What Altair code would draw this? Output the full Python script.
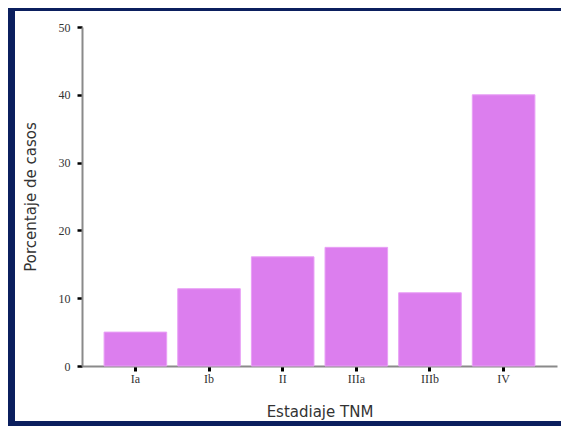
import altair as alt
import pandas as pd

stages = ["Ia", "Ib", "II", "IIIa", "IIIb", "IV"]
percent = [5.0, 11.4, 16.1, 17.5, 10.8, 40.0]

df = pd.DataFrame({"stage": stages, "pct": percent})

W, H = 475, 339
frame_color = "#0B1F5E"

bars = alt.Chart(df).mark_bar(color="#DC7EEE", stroke="#E9A0F6", strokeWidth=1).encode(
    x=alt.X(
        "stage:N",
        sort=stages,
        scale=alt.Scale(paddingInner=0.15, paddingOuter=0.30),
        axis=alt.Axis(
            title="Estadiaje TNM",
            labelAngle=0,
            labelFont="Liberation Serif",
            labelFontSize=12,
            labelColor="#333333",
            labelPadding=2,
            domainColor="#8a8a8a",
            domainWidth=2,
            tickColor="#000000",
            tickWidth=3,
            tickSize=5,
            titleFont="DejaVu Sans",
            titleFontSize=15,
            titleFontWeight="normal",
            titleColor="#333333",
            titlePadding=20,
        ),
    ),
    y=alt.Y(
        "pct:Q",
        scale=alt.Scale(domain=[0, 50]),
        axis=alt.Axis(
            title="Porcentaje de casos",
            values=[0, 10, 20, 30, 40, 50],
            grid=False,
            labelFont="Liberation Serif",
            labelFontSize=12,
            labelColor="#333333",
            labelPadding=7,
            domainColor="#8a8a8a",
            domainWidth=2,
            tickColor="#000000",
            tickWidth=2.5,
            tickSize=5,
            titleFont="DejaVu Sans",
            titleFontSize=15,
            titleFontWeight="normal",
            titleColor="#333333",
            titlePadding=20,
        ),
    ),
)

frame_data = alt.Data(values=[{"k": 1}])
left_bar = alt.Chart(frame_data).mark_rect(color=frame_color).encode(
    x=alt.value(-74), x2=alt.value(-67), y=alt.value(-19), y2=alt.value(399)
)
top_bar = alt.Chart(frame_data).mark_rect(color=frame_color).encode(
    x=alt.value(-74), x2=alt.value(479), y=alt.value(-19), y2=alt.value(-16)
)
bottom_bar = alt.Chart(frame_data).mark_rect(color=frame_color).encode(
    x=alt.value(-74), x2=alt.value(479), y=alt.value(394), y2=alt.value(399)
)

chart = alt.layer(bars, left_bar, top_bar, bottom_bar).properties(
    width=W,
    height=H,
    autosize=alt.AutoSizeParams(type="none"),
    padding={"left": 74, "top": 19, "right": 4, "bottom": 60},
).configure(background="transparent").configure_view(stroke=None)

chart.save("out.html", embed_options={"renderer": "svg", "actions": False})
